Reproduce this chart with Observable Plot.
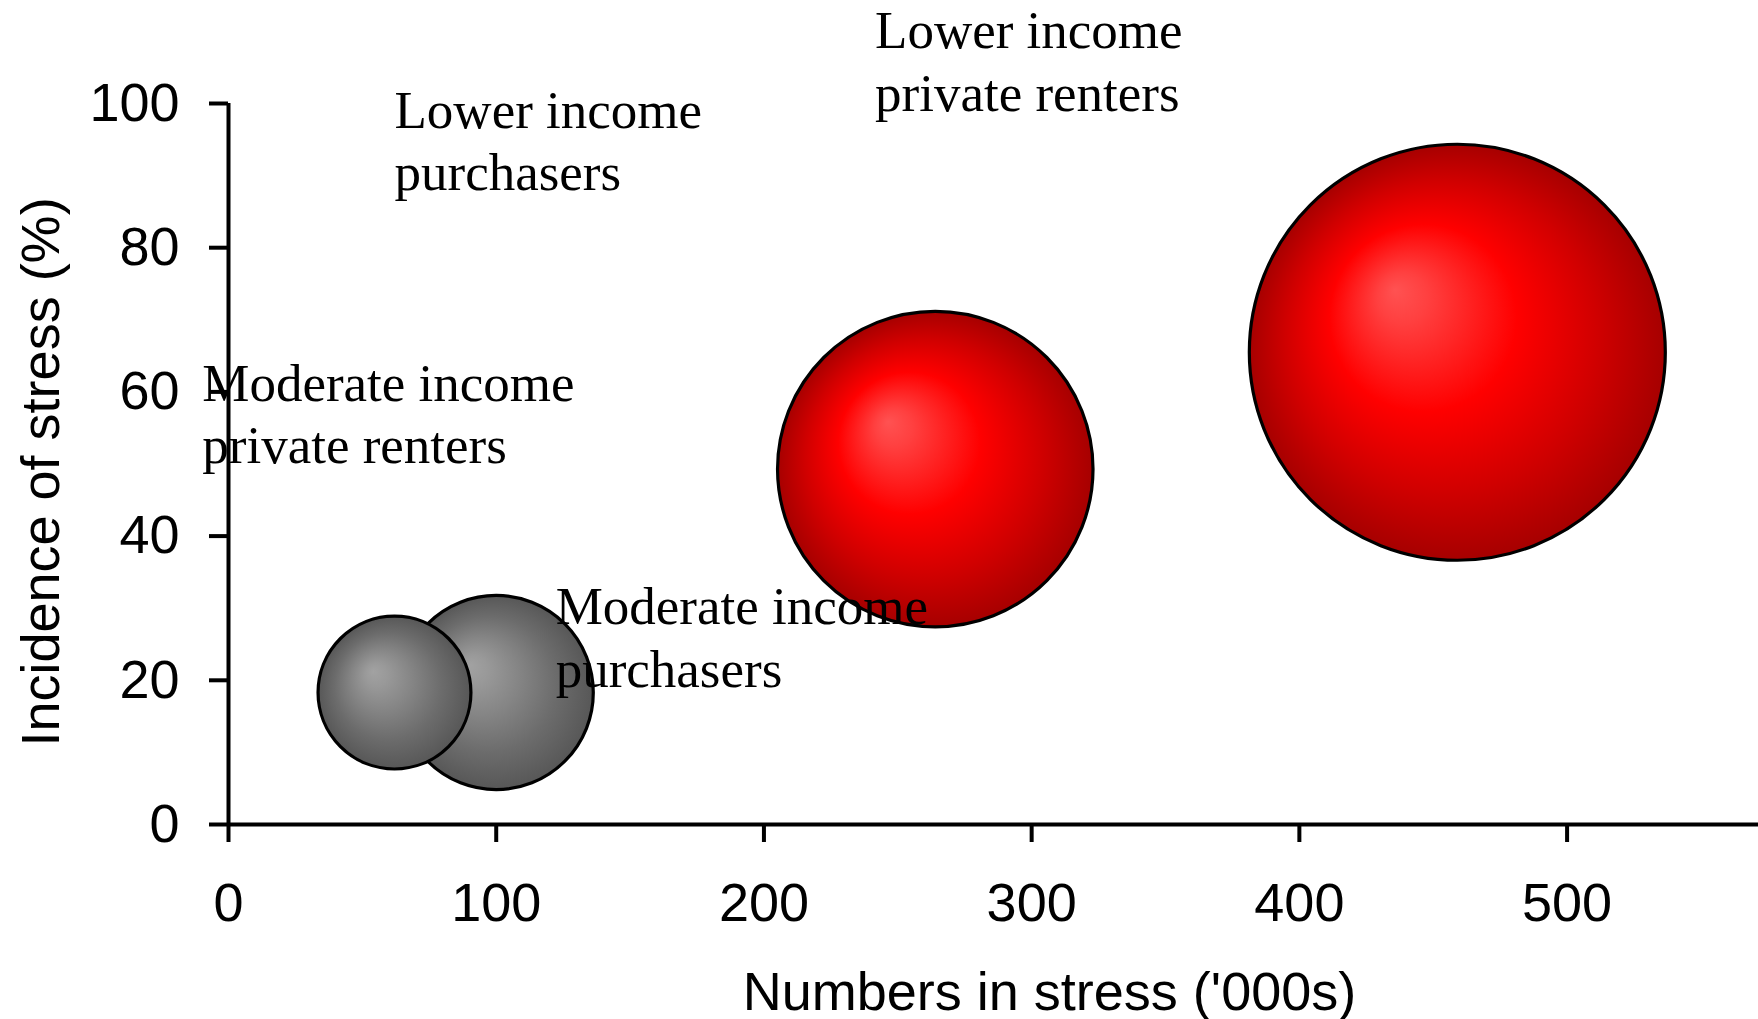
<!DOCTYPE html>
<html>
<head>
<meta charset="utf-8">
<script src="https://cdn.jsdelivr.net/npm/d3@7"></script>
<script src="https://cdn.jsdelivr.net/npm/@observablehq/plot@0.6"></script>
<style>
  html, body { margin: 0; padding: 0; background: #fff; }
  #chart { width: 1758px; height: 1019px; }
</style>
</head>
<body>
<div id="chart"></div>
<script>
// ---- Data ----
const categories = [
  "Moderate income purchasers",
  "Moderate income private renters",
  "Lower income purchasers",
  "Lower income private renters"
];
const groups = ["moderate", "moderate", "lower", "lower"];
const numbersInStress = [100, 62, 264, 459];      // '000s (x, also bubble size)
const incidence = [18.3, 18.3, 49.3, 65.5];      // % (y)

// Data-label annotations (as placed in the original chart, in data units)
const labelTexts = [
  "Lower income\npurchasers",
  "Lower income\nprivate renters",
  "Moderate income\nprivate renters",
  "Moderate income\npurchasers"
];
const labelX = [62, 241.5, -9.8, 122.2];
const labelY = [95.1, 106.1, 57.2, 26.2];

const xTicks = [0, 100, 200, 300, 400, 500];
const yTicks = [0, 20, 40, 60, 80, 100];
const xTitle = "Numbers in stress ('000s)";
const yTitle = "Incidence of stress (%)";

// ---- Build tables ----
const bubbles = categories.map((c, i) => ({
  name: c, group: groups[i], x: numbersInStress[i], y: incidence[i], size: numbersInStress[i]
})).sort((a, b) => b.size - a.size);
const labels = labelTexts.map((t, i) => ({text: t, x: labelX[i], y: labelY[i]}));

const chart = Plot.plot({
  width: 1758,
  height: 1019,
  marginLeft: 228,
  marginRight: 0,
  marginTop: 103,
  marginBottom: 195,
  style: {fontFamily: "'Liberation Sans', Arial, sans-serif", fontSize: "54px", color: "black", background: "white", overflow: "visible"},
  x: {domain: [0, 571.5]},
  y: {domain: [0, 100]},
  r: {type: "sqrt", domain: [0, 459], range: [0, 208]},
  marks: [
    Plot.ruleY([0], {x1: 0, x2: 571.5, stroke: "black", strokeWidth: 4}),
    Plot.ruleX([0], {y1: 0, y2: 100, stroke: "black", strokeWidth: 4}),
    Plot.axisX({ticks: xTicks, tickSize: 18, tickPadding: 40, strokeWidth: 4, fontSize: 54, label: null, tickFormat: d => String(d)}),
    Plot.axisY({ticks: yTicks, tickSize: 19, tickPadding: 30, strokeWidth: 4, fontSize: 54, label: null, tickFormat: d => String(d)}),
    Plot.dot(bubbles, {
      x: "x", y: "y", r: "size",
      fill: d => d.group === "lower" ? "url(#gradRed)" : "url(#gradGray)",
      stroke: "black", strokeWidth: 3.2
    }),
    Plot.text(labels, {
      x: "x", y: "y", text: "text",
      textAnchor: "start", lineAnchor: "middle", lineHeight: 1.18,
      fontFamily: "'Liberation Serif', 'Times New Roman', serif", fontSize: 53, fill: "black"
    }),
    Plot.text([xTitle], {text: d => d, frameAnchor: "bottom", dx: 56, dy: 168, textAnchor: "middle", lineAnchor: "middle", fontSize: 54, fill: "black"}),
    Plot.text([yTitle], {text: d => d, frameAnchor: "left", rotate: -90, dx: -187, dy: 8, textAnchor: "middle", lineAnchor: "middle", fontSize: 54, fill: "black"})
  ]
});

document.getElementById("chart").appendChild(chart);

// gradients
const svg = d3.select(chart);
const defs = svg.insert("defs", ":first-child");
const red = defs.append("radialGradient").attr("id", "gradRed")
  .attr("cx", 0.5).attr("cy", 0.5).attr("r", 0.5).attr("fx", 0.35).attr("fy", 0.35);
[[0, "#ff5252"], [0.12, "#ff4040"], [0.45, "#ff0000"], [0.75, "#d00000"], [1, "#a60000"]]
  .forEach(([o, c]) => red.append("stop").attr("offset", o).attr("stop-color", c));
const gray = defs.append("radialGradient").attr("id", "gradGray")
  .attr("cx", 0.5).attr("cy", 0.5).attr("r", 0.5).attr("fx", 0.36).attr("fy", 0.36);
[[0, "#a2a2a2"], [0.15, "#999999"], [0.4, "#858585"], [0.7, "#6c6c6c"], [1, "#575757"]]
  .forEach(([o, c]) => gray.append("stop").attr("offset", o).attr("stop-color", c));
</script>
</body>
</html>
